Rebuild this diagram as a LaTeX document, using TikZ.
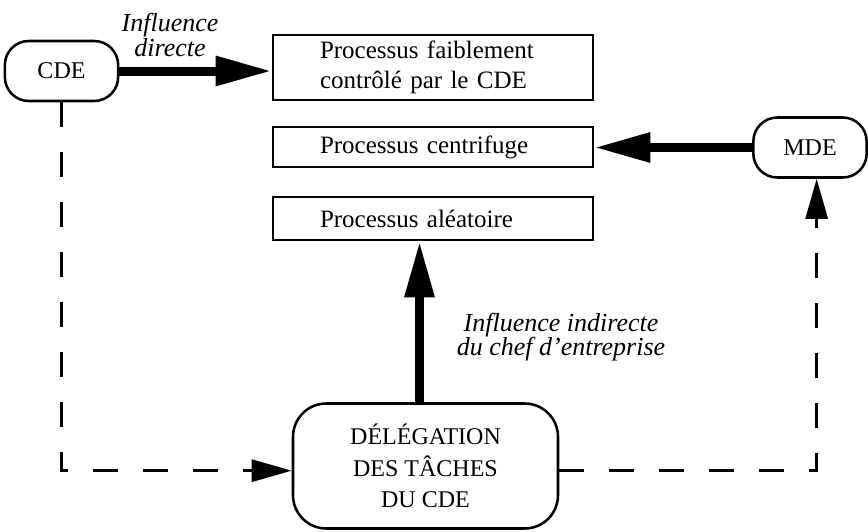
\documentclass[tikz,border=0pt]{standalone}
\usepackage{fontspec}
\setmainfont{Liberation Serif}
\usetikzlibrary{arrows.meta}

\begin{document}
\begin{tikzpicture}[x=0.75pt, y=-0.75pt,
		pill/.style={draw, line width=1.9pt, rounded corners=18pt, minimum width=85pt, minimum height=45pt, inner sep=0pt, font=\fontsize{18}{21}\selectfont},
		procbox/.style={draw, line width=1.9pt, minimum width=240pt, text width=169.5pt, inner xsep=35.25pt, inner ysep=0pt, align=left, font=\fontsize{18.75}{22.5}\selectfont},
		bigarrow/.style={line width=6.75pt, -{Triangle[length=42pt, width=21pt]}},
		dasharrow/.style={line width=2.25pt, dash pattern=on 18.75pt off 18.75pt, -{Triangle[length=30pt, width=16.5pt]}},
		note/.style={align=center, font=\fontsize{19.5}{18.5}\selectfont\itshape}]
			%%%%% START %%%%%
			
			\useasboundingbox (0, 0) rectangle (868, 532);
			
			\node[pill] (cde) at (61.5, 71) {CDE};
			\node[pill] (mde) at (810, 147.5) {MDE};
			
			\node[procbox, minimum height=48.75pt] (faible) at (433, 67.5) {Processus faiblement\\contrôlé par le CDE};
			\node[procbox, minimum height=30pt] (centri) at (433, 147) {Processus centrifuge};
			\node[procbox, minimum height=32.25pt] (alea) at (433, 218.5) {Processus aléatoire};
			
			\node[draw, line width=1.9pt, rounded corners=25pt, minimum width=198.75pt, minimum height=93.75pt, align=center, font=\fontsize{18}{23.6}\selectfont] (deleg) at (425.5, 466) {DÉLÉGATION\\DES TÂCHES\\DU CDE};
			
			\node[note] (directe) at (170, 35) {Influence\\directe};
			\node[note] (indirecte) at (561, 337) {Influence indirecte\\du chef d'entreprise};
			
			\draw[bigarrow] (cde.east) -- (cde.east -| faible.west);
			\draw[bigarrow] (mde.west) -- (mde.west -| centri.east);
			\draw[bigarrow] ([xshift=-4.5pt]deleg.north) -- ([xshift=-4.5pt]deleg.north |- alea.south);
			
			\draw[dasharrow] (cde.south) |- ([yshift=-3.5pt]deleg.west);
			\draw[dasharrow] ([yshift=-3.5pt]deleg.east) -| ([xshift=5pt]mde.south);
			
			%%%%% END %%%%%
\end{tikzpicture}
\end{document}
